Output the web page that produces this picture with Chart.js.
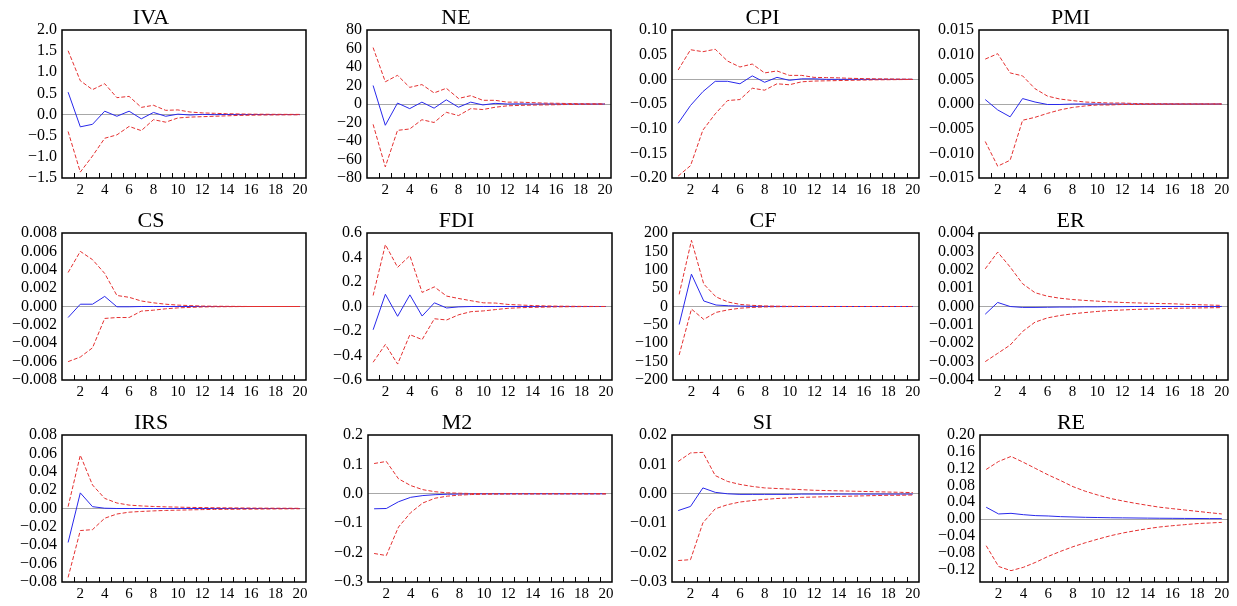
<!DOCTYPE html>
<html>
<head>
<meta charset="utf-8">
<script src="https://cdn.jsdelivr.net/npm/chart.js@4/dist/chart.umd.min.js"></script>
<style>
  body { margin: 0; background: #fff; }
  #page { position: relative; width: 1237px; height: 606px; overflow: hidden; }
  #page canvas { position: absolute; }
</style>
</head>
<body>
<div id="page"></div>
<script>
"use strict"

// forecast horizon shown on every x axis
const periods = [1,2,3,4,5,6,7,8,9,10,11,12,13,14,15,16,17,18,19,20];

// IVA
const ivaMid = [0.53,-0.29,-0.23,0.08,-0.04,0.08,-0.10,0.05,-0.04,0.01,-0.01,0.005,-0.003,0.002,-0.001,0.001,0,0,0,0];
const ivaUp  = [1.51,0.80,0.59,0.73,0.40,0.43,0.17,0.22,0.10,0.11,0.06,0.04,0.03,0.02,0.015,0.01,0.008,0.006,0.005,0.004];
const ivaLow = [-0.40,-1.36,-0.98,-0.56,-0.48,-0.28,-0.38,-0.12,-0.18,-0.08,-0.06,-0.05,-0.04,-0.03,-0.02,-0.015,-0.01,-0.008,-0.006,-0.005];
const ivaTicks = [-1.5,-1.0,-0.5,0,0.5,1.0,1.5,2.0];

// NE
const neMid = [20,-23,1,-5,2,-4.5,4.5,-3.5,2,-1,0.7,0,0.2,-0.1,0.1,0,0,0,0,0];
const neUp  = [61,24,31,18,21,12,17,6,9,4,4,2,2,1.5,1,0.8,0.5,0.3,0.2,0.1];
const neLow = [-22,-68,-28.5,-27,-17,-20,-9,-12.5,-5,-6,-3.5,-2,-1.5,-1.2,-1,-0.8,-0.5,-0.3,-0.2,-0.1];
const neTicks = [-80,-60,-40,-20,0,20,40,60,80];

// CPI
const cpiMid = [-0.089,-0.053,-0.025,-0.004,-0.004,-0.009,0.007,-0.006,0.004,-0.002,0.001,0.001,0,0,0,0,0,0,0,0];
const cpiUp  = [0.019,0.060,0.056,0.061,0.037,0.025,0.031,0.013,0.017,0.008,0.008,0.004,0.0035,0.003,0.002,0.0015,0.001,0.0008,0.0005,0.0003];
const cpiLow = [-0.196,-0.175,-0.103,-0.070,-0.043,-0.041,-0.018,-0.022,-0.009,-0.011,-0.005,-0.0035,-0.003,-0.0025,-0.002,-0.0015,-0.001,-0.0008,-0.0005,-0.0003];
const cpiTicks = [-0.20,-0.15,-0.10,-0.05,0,0.05,0.10];

// PMI
const pmiMid = [0.0009,-0.0012,-0.0026,0.0011,0.0004,-0.0001,-0.0001,0,0,0,0,0,0,0,0,0,0,0,0,0];
const pmiUp  = [0.0091,0.0102,0.0063,0.0057,0.0031,0.0016,0.0010,0.0007,0.0004,0.0003,0.0002,0.0002,0.0001,0.00005,0.00005,0.00003,0.00003,0.00002,0.00002,0.00001];
const pmiLow = [-0.0076,-0.0126,-0.0114,-0.0033,-0.0027,-0.0019,-0.0012,-0.0007,-0.0004,-0.0002,-0.0002,-0.0001,-0.0001,-0.00005,-0.00005,-0.00003,-0.00003,-0.00002,-0.00002,-0.00001];
const pmiTicks = [-0.015,-0.010,-0.005,0,0.005,0.010,0.015];

// CS
const csMid = [-0.0012,0.00025,0.00025,0.0011,-0.00003,-0.00003,0,0,0,0,0,0,0,0,0,0,0,0,0,0];
const csUp  = [0.0037,0.0060,0.0051,0.0036,0.0012,0.0010,0.0006,0.0004,0.00025,0.00015,0.0001,0.00005,0.00003,0.00002,0.00001,0,0,0,0,0];
const csLow = [-0.0060,-0.0055,-0.0045,-0.0013,-0.0012,-0.0012,-0.0005,-0.0004,-0.00025,-0.00015,-0.0001,-0.00005,-0.00003,-0.00002,-0.00001,0,0,0,0,0];
const csTicks = [-0.008,-0.006,-0.004,-0.002,0,0.002,0.004,0.006,0.008];

// FDI
const fdiMid = [-0.19,0.10,-0.08,0.095,-0.078,0.03,-0.012,-0.003,0,0,0,0,0,0,0,0,0,0,0,0];
const fdiUp  = [0.09,0.505,0.32,0.415,0.115,0.16,0.085,0.065,0.047,0.03,0.028,0.017,0.012,0.008,0.005,0.003,0.002,0.001,0.0005,0.0002];
const fdiLow = [-0.455,-0.31,-0.47,-0.23,-0.27,-0.10,-0.11,-0.067,-0.042,-0.036,-0.025,-0.015,-0.01,-0.007,-0.005,-0.003,-0.002,-0.001,-0.0005,-0.0002];
const fdiTicks = [-0.6,-0.4,-0.2,0,0.2,0.4,0.6];

// CF
const cfMid = [-49,88,15,4,2,1,0.5,0.2,0.1,0,0,0,0,0,0,0,0,0,0,0];
const cfUp  = [33,180,61,26,12,5.5,3,1.5,0.8,0.5,0.3,0.2,0.1,0.1,0,0,0,0,0,0];
const cfLow = [-132,-7,-35,-16,-9,-4.5,-2.5,-1.2,-0.6,-0.3,-0.2,-0.1,-0.1,0,0,0,0,0,0,0];
const cfTicks = [-200,-150,-100,-50,0,50,100,150,200];

// ER
const erMid = [-0.00042,0.00022,0,-0.00005,-0.00005,-0.00004,-0.00003,-0.00003,-0.00002,-0.00002,-0.00001,-0.00001,0,0,0,0,0,0,0,0];
const erUp  = [0.00205,0.00296,0.00215,0.00124,0.00075,0.00056,0.00045,0.00038,0.00033,0.00029,0.00025,0.00022,0.0002,0.00018,0.00016,0.00015,0.00012,0.0001,0.00008,0.00006];
const erLow = [-0.0030,-0.00255,-0.0021,-0.00136,-0.00085,-0.00062,-0.00049,-0.0004,-0.00033,-0.00027,-0.00022,-0.00019,-0.00016,-0.00014,-0.00012,-0.0001,-0.00009,-0.00008,-0.00007,-0.00006];
const erTicks = [-0.004,-0.003,-0.002,-0.001,0,0.001,0.002,0.003,0.004];

// IRS
const irsMid = [-0.037,0.017,0.002,0.0003,0,0,0,0,0,0,0,0,0,0,0,0,0,0,0,0];
const irsUp  = [0.002,0.058,0.0256,0.011,0.006,0.0037,0.0028,0.0022,0.0018,0.0015,0.0012,0.001,0.0008,0.0007,0.0006,0.0005,0.0004,0.0003,0.0003,0.0002];
const irsLow = [-0.075,-0.024,-0.023,-0.0106,-0.006,-0.004,-0.0032,-0.0026,-0.0021,-0.0018,-0.0015,-0.0012,-0.001,-0.0009,-0.0008,-0.0007,-0.0006,-0.0005,-0.0004,-0.0003];
const irsTicks = [-0.08,-0.06,-0.04,-0.02,0,0.02,0.04,0.06,0.08];

// M2
const m2Mid = [-0.051,-0.05,-0.027,-0.012,-0.006,-0.003,-0.0015,-0.0008,-0.0004,-0.0002,-0.0001,0,0,0,0,0,0,0,0,0];
const m2Up  = [0.103,0.11,0.051,0.028,0.014,0.007,0.0035,0.002,0.001,0.0005,0.0003,0.0002,0.0001,0.0001,0,0,0,0,0,0];
const m2Low = [-0.203,-0.21,-0.113,-0.064,-0.031,-0.015,-0.008,-0.0045,-0.0025,-0.0015,-0.001,-0.0007,-0.0005,-0.0003,-0.0002,-0.0001,0,0,0,0];
const m2Ticks = [-0.3,-0.2,-0.1,0,0.1,0.2];

// SI
const siMid = [-0.0057,-0.0043,0.002,0.0005,0,-0.0002,-0.0002,-0.0002,-0.0002,-0.0002,-0.0001,-0.0001,-0.0001,-0.0001,-0.0001,-0.0001,-0.0001,-0.0001,-0.0001,-0.0001];
const siUp  = [0.011,0.0139,0.0141,0.0062,0.0042,0.0032,0.0025,0.002,0.0018,0.0016,0.0014,0.0012,0.0011,0.001,0.0009,0.0008,0.0007,0.0006,0.0005,0.0004];
const siLow = [-0.0227,-0.0224,-0.0099,-0.0051,-0.0037,-0.0028,-0.0023,-0.0019,-0.0016,-0.0014,-0.0012,-0.0011,-0.001,-0.0009,-0.0008,-0.0007,-0.0006,-0.0005,-0.0005,-0.0004];
const siTicks = [-0.03,-0.02,-0.01,0,0.01,0.02];

// RE
const reMid = [0.028,0.012,0.0135,0.0103,0.008,0.0072,0.0056,0.0048,0.004,0.0035,0.003,0.0027,0.0024,0.0021,0.0018,0.0016,0.0014,0.0012,0.001,0.0009];
const reUp  = [0.118,0.137,0.149,0.135,0.12,0.105,0.0915,0.077,0.066,0.057,0.049,0.043,0.0375,0.0326,0.028,0.0247,0.0215,0.0183,0.0151,0.012];
const reLow = [-0.0636,-0.113,-0.123,-0.115,-0.103,-0.089,-0.077,-0.066,-0.0565,-0.048,-0.04,-0.0334,-0.028,-0.023,-0.019,-0.016,-0.0135,-0.011,-0.0095,-0.008];
const reTicks = [-0.12,-0.08,-0.04,0,0.04,0.08,0.12,0.16,0.20];

// one entry per panel: response, bands, y ticks, y range and label decimals
const panels = [
  {title:"IVA", mid:ivaMid, up:ivaUp, low:ivaLow, ticks:ivaTicks, min:-1.5, max:2.0, dec:1},
  {title:"NE",  mid:neMid,  up:neUp,  low:neLow,  ticks:neTicks,  min:-80, max:80, dec:0},
  {title:"CPI", mid:cpiMid, up:cpiUp, low:cpiLow, ticks:cpiTicks, min:-0.20, max:0.10, dec:2},
  {title:"PMI", mid:pmiMid, up:pmiUp, low:pmiLow, ticks:pmiTicks, min:-0.015, max:0.015, dec:3},
  {title:"CS",  mid:csMid,  up:csUp,  low:csLow,  ticks:csTicks,  min:-0.008, max:0.008, dec:3},
  {title:"FDI", mid:fdiMid, up:fdiUp, low:fdiLow, ticks:fdiTicks, min:-0.6, max:0.6, dec:1},
  {title:"CF",  mid:cfMid,  up:cfUp,  low:cfLow,  ticks:cfTicks,  min:-200, max:200, dec:0},
  {title:"ER",  mid:erMid,  up:erUp,  low:erLow,  ticks:erTicks,  min:-0.004, max:0.004, dec:3},
  {title:"IRS", mid:irsMid, up:irsUp, low:irsLow, ticks:irsTicks, min:-0.08, max:0.08, dec:2},
  {title:"M2",  mid:m2Mid,  up:m2Up,  low:m2Low,  ticks:m2Ticks,  min:-0.3, max:0.2, dec:1},
  {title:"SI",  mid:siMid,  up:siUp,  low:siLow,  ticks:siTicks,  min:-0.03, max:0.02, dec:2},
  {title:"RE",  mid:reMid,  up:reUp,  low:reLow,  ticks:reTicks,  min:-0.15, max:0.20, dec:2}
];

// plot-area rectangles on the page [left, top, right, bottom], same order as panels
const plotBoxes = [
  [62,30,306,178],  [367,30,611,178],  [672,30,919,178],  [979,30,1228,178],
  [62,233,306,380], [367,233,612,380], [673,233,919,380], [979,233,1228,380],
  [62,435,306,582], [368,435,612,582], [672,435,919,582], [980,435,1228,582]
];

const SERIF = "'Liberation Serif', 'Times New Roman', serif";
const RED = "rgb(228,48,48)";
const BLUE = "rgb(40,40,235)";

// room around the plot area inside each canvas
const PAD_L = 70, PAD_T = 30, PAD_R = 10, PAD_B = 24;
const Y_W = 66, X_H = 22;

// black frame plus the small inward ticks between periods (EViews style)
const framePlugin = {
  id: "frame",
  afterDatasetsDraw(chart){
    const ctx = chart.ctx;
    const a = chart.chartArea;
    const x = chart.scales.x;
    ctx.save();
    ctx.strokeStyle = "#000";
    ctx.lineWidth = 1;
    for(let i = 1; i < x.ticks.length; i++){
      const px = Math.round((x.getPixelForTick(i - 1) + x.getPixelForTick(i)) / 2) + 0.5;
      ctx.beginPath();
      ctx.moveTo(px, a.bottom);
      ctx.lineTo(px, a.bottom - 5);
      ctx.stroke();
    }
    ctx.lineWidth = 1.5;
    ctx.strokeRect(a.left, a.top, a.right - a.left, a.bottom - a.top);
    ctx.restore();
  }
};

function fmt(v, dec){
  return Number(v).toFixed(dec).replace("-", "\u2212");
}

function band(data){
  return {data:data, borderColor:RED, borderWidth:1, borderDash:[4,2], pointRadius:0, tension:0, fill:false};
}

const page = document.getElementById("page");

panels.forEach(function(p, k){
  const box = plotBoxes[k];
  const cv = document.createElement("canvas");
  const w = box[2] - box[0] + PAD_L + PAD_R;
  const h = box[3] - box[1] + PAD_T + PAD_B;
  cv.width = w; cv.height = h;
  cv.style.left = (box[0] - PAD_L) + "px";
  cv.style.top = (box[1] - PAD_T) + "px";
  cv.style.width = w + "px";
  cv.style.height = h + "px";
  page.appendChild(cv);

  new Chart(cv, {
    type: "line",
    data: {
      labels: periods,
      datasets: [
        band(p.up),
        band(p.low),
        {data:p.mid, borderColor:BLUE, borderWidth:1, pointRadius:0, tension:0, fill:false}
      ]
    },
    options: {
      responsive: false,
      animation: false,
      devicePixelRatio: 1,
      layout: {padding: {left: PAD_L - Y_W, top: 7, right: PAD_R, bottom: PAD_B - X_H}},
      plugins: {
        legend: {display:false},
        tooltip: {enabled:false},
        title: {
          display: true,
          text: p.title,
          color: "#000",
          font: {family:SERIF, size:22, weight:"normal", lineHeight:1},
          padding: {top:0, bottom:1}
        }
      },
      scales: {
        x: {
          type: "category",
          offset: true,
          grid: {display:false, drawTicks:false},
          border: {display:false},
          ticks: {
            color: "#000",
            font: {family:SERIF, size:15, lineHeight:1},
            padding: 5,
            autoSkip: false,
            maxRotation: 0,
            callback: function(v, i){ return periods[i] % 2 === 0 ? String(periods[i]) : ""; }
          },
          afterFit: function(s){ s.height = X_H; }
        },
        y: {
          min: p.min,
          max: p.max,
          afterBuildTicks: function(s){ s.ticks = p.ticks.map(function(v){ return {value:v}; }); },
          grid: {
            drawTicks: false,
            lineWidth: 1,
            color: function(c){ return c.tick && c.tick.value === 0 ? "#a8a8a8" : "rgba(0,0,0,0)"; }
          },
          border: {display:false},
          ticks: {
            color: "#000",
            font: {family:SERIF, size:16},
            padding: 5,
            autoSkip: false,
            callback: function(v){ return fmt(v, p.dec); }
          },
          afterFit: function(s){ s.width = Y_W; }
        }
      }
    },
    plugins: [framePlugin]
  });
});
</script>
</body>
</html>
